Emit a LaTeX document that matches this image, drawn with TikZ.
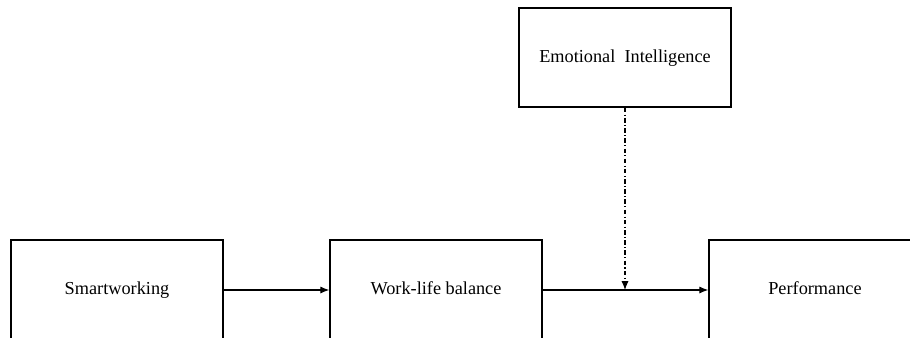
\documentclass[tikz,border=0pt]{standalone}
\usepackage{fontspec}
\setmainfont{Liberation Serif}
\usetikzlibrary{arrows.meta}
\begin{document}
\begin{tikzpicture}[x=0.02cm, y=-0.02cm,
    box/.style={draw, line width=0.9pt, minimum width=4.24cm, minimum height=2cm,
      inner sep=0pt, text height=1.6ex, text depth=0.4ex,
      font=\fontsize{10.4}{12}\selectfont},
    link/.style={-{Latex[length=5pt,width=4pt]}, line width=0.6pt},
    modlink/.style={link, dash pattern=on 2.6pt off 1.3pt on 0.6pt off 1.3pt}]
    \useasboundingbox (0,0) rectangle (910,338);
    \clip (0,0) rectangle (910,338);

    % Kaesten
    \node[box, minimum height=1.98cm] (ei) at (625,57.5) {Emotional\hspace{0.5em}Intelligence};
    \node[box] (sw) at (117,290) {Smartworking};
    \node[box] (wlb) at (436,290) {Work-life balance};
    \node[box] (perf) at (815,290) {Performance};

    % Pfeile
    \draw[link] (sw) -- (wlb);
    \draw[link] (wlb) -- (perf);
    \coordinate (mod) at (ei |- wlb);
    \draw[modlink] (ei) -- (mod);
\end{tikzpicture}
\end{document}
